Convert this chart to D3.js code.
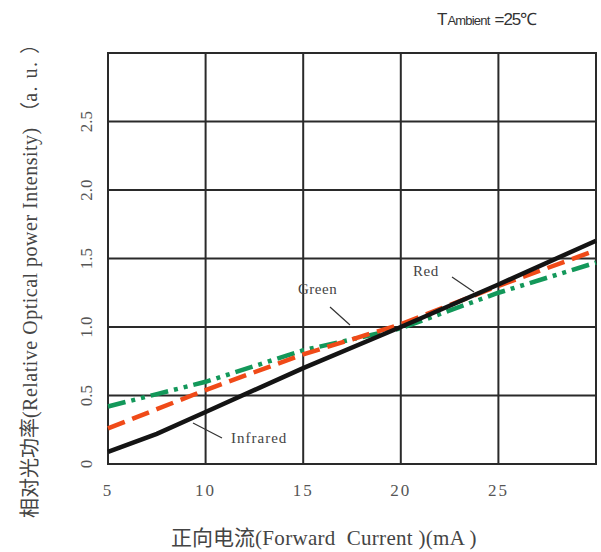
<!DOCTYPE html>
<html><head><meta charset="utf-8">
<script src="https://cdn.jsdelivr.net/npm/d3@7"></script>
<style>body{margin:0;background:#fff}</style>
</head><body><svg id="c" width="601" height="552"></svg>
<script>
const current = [5, 7.5, 10, 15, 20, 25, 30];
const infrared = [0.088, 0.22, 0.38, 0.70, 1.0, 1.31, 1.63];
const red = [0.26, 0.40, 0.54, 0.80, 1.02, 1.30, 1.56];
const green = [0.42, 0.51, 0.60, 0.83, 0.99, 1.25, 1.47];
const xTicks = [5, 10, 15, 20, 25];
const yTicks = [0, 0.5, 1.0, 1.5, 2.0, 2.5];
const xGrid = [5, 10, 15, 20, 25, 30];
const yGrid = [0, 0.5, 1.0, 1.5, 2.0, 2.5, 3.0];

const svg = d3.select("#c");
const x = d3.scaleLinear().domain([5, 30]).range([108, 596]);
const y = d3.scaleLinear().domain([0, 3]).range([464, 53]);
const serif = "'Liberation Serif','DejaVu Serif',serif";
const cjkSerif = "'Noto Sans CJK SC',serif";

// grid
const g = svg.append("g");
g.selectAll("line.v").data(xGrid).join("line")
  .attr("x1", d => x(d)).attr("x2", d => x(d))
  .attr("y1", y(0)).attr("y2", y(3))
  .attr("stroke", "#2a2a2a").attr("stroke-width", 2);
g.selectAll("line.h").data(yGrid).join("line")
  .attr("y1", d => y(d)).attr("y2", d => y(d))
  .attr("x1", x(5) - 1).attr("x2", x(30) + 1)
  .attr("stroke", "#2a2a2a").attr("stroke-width", 2);

// tick labels
svg.selectAll("text.xt").data(xTicks).join("text")
  .attr("x", d => x(d)).attr("y", 496)
  .attr("text-anchor", "middle")
  .attr("font-family", serif).attr("font-size", 17)
  .attr("letter-spacing", 2).attr("fill", "#555")
  .text(d => d);
svg.selectAll("text.yt").data(yTicks).join("text")
  .attr("transform", d => `translate(92,${y(d)}) rotate(-90)`)
  .attr("text-anchor", "middle")
  .attr("font-family", serif).attr("font-size", 17)
  .attr("fill", "#555")
  .text(d => d === 0 ? "0" : d.toFixed(1));

// lines
const line = vals => d3.line().x((d, i) => x(current[i])).y(d => y(d))(vals);
svg.append("path").attr("d", line(green)).attr("fill", "none")
  .attr("stroke", "#13985a").attr("stroke-width", 4.5)
  .attr("stroke-dasharray", "18 6 4 6 4 6");
svg.append("path").attr("d", line(red)).attr("fill", "none")
  .attr("stroke", "#f04a18").attr("stroke-width", 4.5)
  .attr("stroke-dasharray", "18 8");
svg.append("path").attr("d", line(infrared)).attr("fill", "none")
  .attr("stroke", "#141414").attr("stroke-width", 4.5);

// labels with leaders
const labels = [
  {t: "Green", tx: 298, ty: 294, l: [330, 307, 350, 325]},
  {t: "Red", tx: 413, ty: 276, l: [452, 277, 474, 292]},
  {t: "Infrared", tx: 231, ty: 443, l: [193, 423, 222, 438]}
];
labels.forEach(o => {
  svg.append("line").attr("x1", o.l[0]).attr("y1", o.l[1]).attr("x2", o.l[2]).attr("y2", o.l[3])
    .attr("stroke", "#333").attr("stroke-width", 1.2);
  svg.append("text").attr("x", o.tx).attr("y", o.ty)
    .attr("font-family", serif).attr("font-size", 15).attr("fill", "#444")
    .attr("letter-spacing", o.t === "Infrared" ? 1 : 0.5)
    .text(o.t);
});

// ambient label
const amb = svg.append("text").attr("x", 437).attr("y", 25)
  .attr("font-family", "'Liberation Sans',Arial,sans-serif").attr("fill", "#333");
amb.append("tspan").attr("font-size", 17).text("T");
amb.append("tspan").attr("font-size", 13).attr("letter-spacing", -0.8).text("Ambient");
amb.append("tspan").attr("font-size", 17).attr("dx", 5).attr("letter-spacing", -1).text("=25℃");

// x axis title
const xt = svg.append("text").attr("x", 324).attr("y", 545).attr("text-anchor", "middle")
  .attr("font-family", serif).attr("font-size", 21).attr("fill", "#444");
xt.append("tspan").attr("font-family", cjkSerif).text("正向电流");
xt.append("tspan").attr("letter-spacing", 0.3).text("(Forward\u00a0\u00a0Current )(mA )");

// y axis title
const yt = svg.append("text").attr("transform", "translate(37,276) rotate(-90)")
  .attr("text-anchor", "middle")
  .attr("font-family", serif).attr("font-size", 20).attr("fill", "#444");
yt.append("tspan").attr("font-family", cjkSerif).text("相对光功率");
yt.append("tspan").attr("letter-spacing", 0.5).text("(Relative Optical power Intensity)\u00a0");
yt.append("tspan").attr("font-family", cjkSerif).text("（");
yt.append("tspan").attr("letter-spacing", 1.5).text("a. u. ");
yt.append("tspan").attr("font-family", cjkSerif).text("）");
</script></body></html>
